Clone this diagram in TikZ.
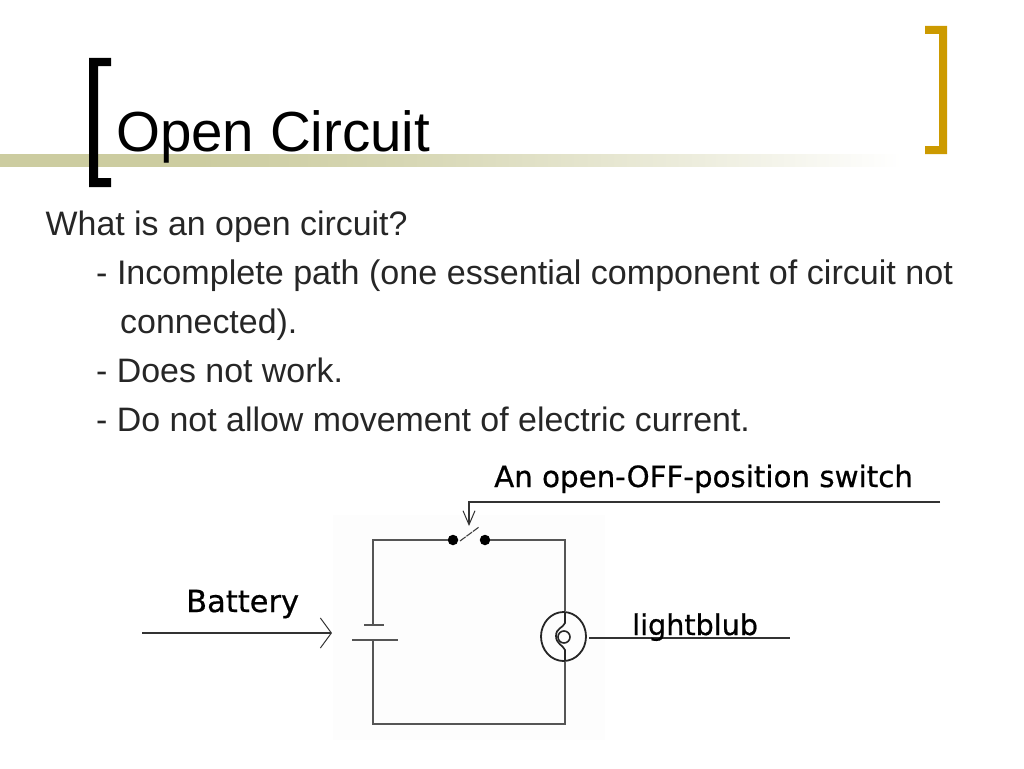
\documentclass[tikz,border=0pt]{standalone}
\usepackage{fontspec}
\setmainfont{Liberation Sans}
\newfontfamily\handfont[FakeBold=0.6]{DejaVu Sans}
\usetikzlibrary{arrows.meta,shapes.geometric}
\definecolor{barolive}{HTML}{CCCCA0}
\definecolor{goldbr}{HTML}{CC9A00}
\definecolor{bodyk}{HTML}{262626}
\definecolor{wirec}{HTML}{555555}
\definecolor{patchc}{HTML}{FDFDFD}
\pgfdeclarehorizontalshading{barfade}{100bp}{color(0bp)=(barolive);color(34.8bp)=(barolive);color(44.5bp)=(barolive!80!white);color(59.2bp)=(barolive!35!white);color(69bp)=(white);color(100bp)=(white)}
\tikzset{
  body/.style={anchor=base west,inner sep=0pt,text=bodyk,font=\fontsize{33.9}{40}\selectfont},
  bodywide/.style={body,font=\fontsize{34.1}{40}\selectfont},
  hand/.style={anchor=base west,inner sep=0pt,text=black},
  wire/.style={draw=wirec,line width=1.6pt},
  inkline/.style={draw=black!80,line width=1.5pt},
  contact/.style={circle,fill=black,inner sep=0pt,minimum size=10.5pt},
  openhead/.style={-{Straight Barb[length=11pt,width=30pt,line width=1pt]}},
  openheadsm/.style={-{Straight Barb[length=14pt,width=12pt,line width=1pt]}}
}
\begin{document}
\begin{tikzpicture}[x=1pt,y=-1pt]
\useasboundingbox (0,0) rectangle (1024,768);
% title band
\fill[shading=barfade,shading angle=0] (0,154) rectangle (1024,166);
% brackets
\fill[black] (89,58) -- (111,58) -- (111,66) -- (98,66) -- (98,178) -- (111,178) -- (111,187) -- (89,187) -- cycle;
\fill[goldbr] (925,26) -- (947,26) -- (947,154) -- (925,154) -- (925,146) -- (939,146) -- (939,34) -- (925,34) -- cycle;
% title and body text
\node[anchor=base west,inner sep=0pt,font=\fontsize{56.5}{60}\selectfont] (title) at (116,151) {Open Circuit};
\node[body] (l1) at (45.5,235) {What is an open circuit?};
\node[bodywide] (l2) at (96,284) {- Incomplete path (one essential component of circuit not};
\node[body] (l3) at (120,333) {connected).};
\node[body] (l4) at (96,382) {- Does not work.};
\node[body] (l5) at (96,431) {- Do not allow movement of electric current.};
% diagram background patch
\fill[patchc] (333,515) rectangle (605,740);
% circuit nodes
\coordinate (tl) at (373,540);
\coordinate (tr) at (565,540);
\coordinate (bl) at (373,724);
\coordinate (br) at (565,724);
\node[contact] (s1) at (453,540) {};
\node[contact] (s2) at (485,540) {};
\coordinate (armA) at (460,541);
\coordinate (armB) at (479,527);
\coordinate (platS1) at (364,625);
\coordinate (platS2) at (384,625);
\coordinate (platL1) at (352,640);
\coordinate (platL2) at (398,640);
\coordinate (platS) at (373,625);
\coordinate (platL) at (373,640);
\node[draw=black!85,line width=1.8pt,ellipse,minimum width=45pt,minimum height=49pt,inner sep=0pt] (bulb) at (563.5,636.5) {};
\node[draw=black!85,line width=1.6pt,circle,minimum size=12pt,inner sep=0pt] (fil) at (564,637) {};
% wires
\draw[wire] (s1) -- (tl) -- (platS);
\draw[wire] (platL) -- (bl) -- (br) -- (br |- bulb.south);
\draw[wire] (s2) -- (tr) -- (tr |- bulb.north);
\draw[wire,line width=1.3pt] (platS1) -- (platS2);
\draw[wire,line width=1.3pt] (platL1) -- (platL2);
\draw[draw=black!75,line width=1.1pt,dash pattern=on 7pt off 1pt] (armA) -- (armB);
% bulb filament
\draw[line width=1.7pt,black!85] (565,612) -- (565,623) .. controls (563,628) and (556,628) .. (556,636) .. controls (556,644) and (563,645) .. (565,650) -- (565,661);
% annotations
\coordinate (swR) at (940,502);
\coordinate (swC) at (469,502);
\coordinate (swT) at (469,526);
\draw[inkline,openheadsm] (swR) -- (swC) -- (swT);
\coordinate (batL) at (142,633);
\coordinate (batR) at (332,633);
\draw[inkline,openhead] (batL) -- (batR);
\coordinate (lbL) at (589,638);
\coordinate (lbR) at (790,638);
\draw[inkline] (lbL) -- (lbR);
\node[hand,font=\handfont\fontsize{29.3}{32}\selectfont] (swlabel) at (494,487) {An open-OFF-position switch};
\node[hand,font=\handfont\fontsize{30.5}{32}\selectfont] (batlabel) at (186,612) {Battery};
\node[hand,font=\handfont\fontsize{28.6}{32}\selectfont] (lblabel) at (632,635) {lightblub};
\end{tikzpicture}
\end{document}
